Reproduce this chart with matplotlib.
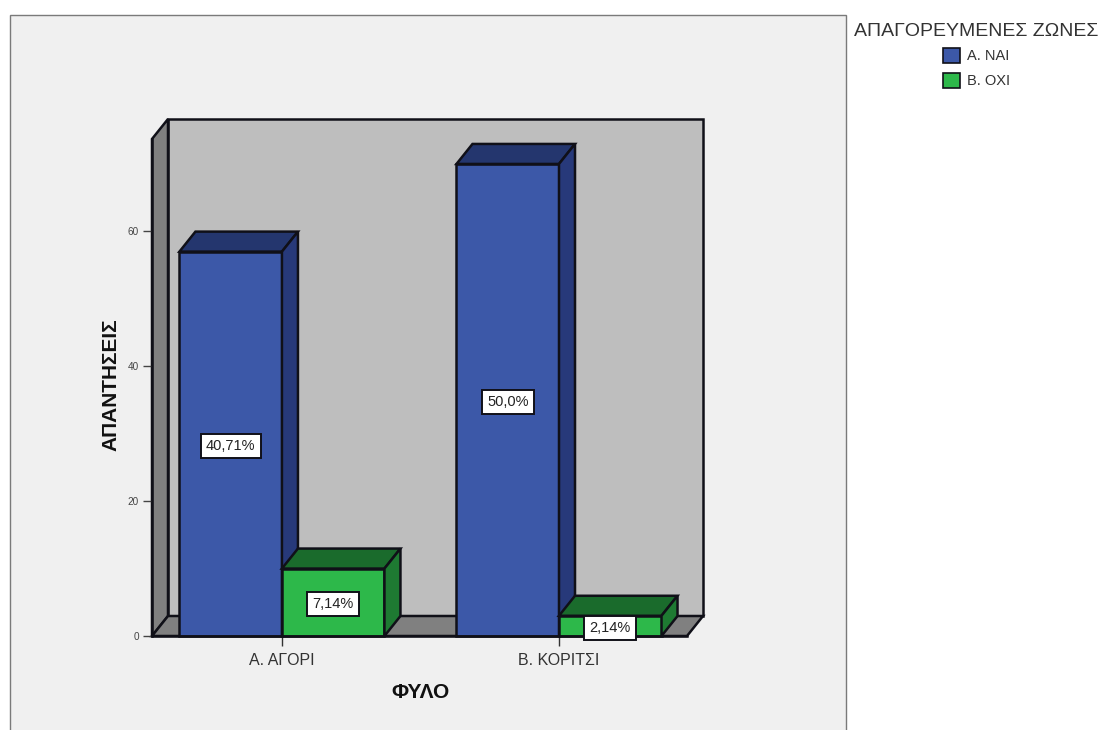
import matplotlib
matplotlib.use("Agg")
import matplotlib.pyplot as plt
from matplotlib.patches import Patch, Rectangle

plt.rcParams["font.family"] = ["Liberation Sans", "DejaVu Sans"]

categories = ["Α. ΑΓΟΡΙ", "Β. ΚΟΡΙΤΣΙ"]
series_names = ["Α. ΝΑΙ", "Β. ΟΧΙ"]
yes_values = [57, 70]
no_values = [10, 3]
yes_labels = ["40,71%", "50,0%"]
no_labels = ["7,14%", "2,14%"]
y_ticks = [0, 20, 40, 60]

W, H = 1098, 730
BLUE = ("#3C58A8", "#24366E", "#27397A")
GREEN = ("#2DB84A", "#1A6B2C", "#1E7A32")
EDGE = "#101018"
LW = 1.8

fig = plt.figure(figsize=(W / 100, H / 100), dpi=100, facecolor="white")

# grey chart panel, runs off the bottom of the picture
fig.add_artist(Rectangle((10 / W, -0.01), 836 / W, (H - 15) / H + 0.01, transform=fig.transFigure,
                         facecolor="#F0F0F0", edgecolor="#7A7A7A", linewidth=1, zorder=-1))

ax = fig.add_axes([152 / W, (H - 636) / H, 535 / W, 497 / H], facecolor="none")
ax.set_xlim(-0.469, 1.462)
ax.set_ylim(0, 73.7)

# depth of the fake 3d, in data units (16 px right, 20 px up)
dx = 16 / 277
dy = 20 / 6.742
x0, x1 = ax.get_xlim()
y0, y1 = ax.get_ylim()


def face(xs, ys, color, z):
    ax.fill(xs, ys, facecolor=color, edgecolor=EDGE, linewidth=LW, joinstyle="miter",
            clip_on=False, zorder=z)


face([x0 + dx, x1 + dx, x1 + dx, x0 + dx], [y0 + dy, y0 + dy, y1 + dy, y1 + dy], "#BEBEBE", 1)
face([x0, x0 + dx, x0 + dx, x0], [y0, y0 + dy, y1 + dy, y1], "#808080", 1.1)
face([x0, x1, x1 + dx, x0 + dx], [y0, y0, y0 + dy, y0 + dy], "#808080", 1.1)

bar_w = 0.37
z = 2
for i in range(len(categories)):
    pairs = [(i - bar_w, yes_values[i], BLUE, yes_labels[i]),
             (i, no_values[i], GREEN, no_labels[i])]
    for left, val, cols, lab in pairs:
        right = left + bar_w
        ax.bar(left, val, bar_w, align="edge", color=cols[0], edgecolor=EDGE, linewidth=LW,
               clip_on=False, zorder=z)
        face([left, right, right + dx, left + dx], [val, val, val + dy, val + dy], cols[1], z)
        face([right, right + dx, right + dx, right], [0, dy, val + dy, val], cols[2], z)
        ax.annotate(lab, (left + bar_w / 2, val / 2), xytext=(0, -1.4), textcoords="offset points",
                    ha="center", va="center", fontsize=10.5, color="#222222", zorder=10,
                    bbox=dict(boxstyle="square,pad=0.36", facecolor="white", edgecolor=EDGE, linewidth=1.4))
        z += 1

for name in ["top", "right"]:
    ax.spines[name].set_visible(False)
for name in ["left", "bottom"]:
    ax.spines[name].set_linewidth(LW)
    ax.spines[name].set_color(EDGE)
    ax.spines[name].set_zorder(9)

ax.set_xticks(range(len(categories)), categories)
ax.set_yticks(y_ticks)
ax.tick_params(axis="x", length=7.5, width=1, color="#333333", labelsize=11.5, labelcolor="#333333", pad=5)
ax.tick_params(axis="y", length=6.5, width=1, color="#444444", labelsize=7.2, labelcolor="#444444", pad=2.9)

fig.text(420 / W, 1 - 692 / H, "ΦΥΛΟ", ha="center", va="center", fontsize=15, fontweight="bold", color="#111111")
fig.text(111 / W, 1 - 385 / H, "ΑΠΑΝΤΗΣΕΙΣ", ha="center", va="center", rotation=90,
         fontsize=15, fontweight="bold", color="#111111")

handles = [Patch(facecolor=BLUE[0], edgecolor=EDGE, linewidth=1.2, label=series_names[0]),
           Patch(facecolor=GREEN[0], edgecolor=EDGE, linewidth=1.2, label=series_names[1])]
leg = fig.legend(handles=handles, title="ΑΠΑΓΟΡΕΥΜΕΝΕΣ ΖΩΝΕΣ", loc="upper left",
                 bbox_to_anchor=(854 / W, 1 - 23 / H), bbox_transform=fig.transFigure, frameon=False,
                 fontsize=10.5, title_fontsize=14, borderpad=0, borderaxespad=0,
                 handlelength=1.2, handleheight=1.2, handletextpad=0.45, labelspacing=0.68)
leg._legend_box.sep = 5.5
leg.get_title().set_color("#333333")
for t in leg.get_texts():
    t.set_color("#333333")

fig.savefig("out.png", dpi=100)
plt.close(fig)
